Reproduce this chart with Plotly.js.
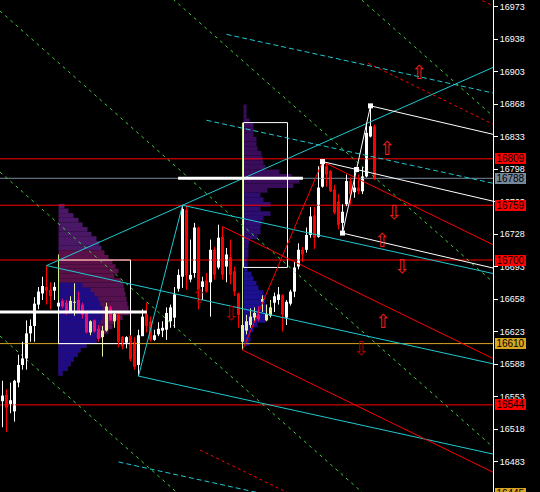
<!DOCTYPE html>
<html><head><meta charset="utf-8">
<script src="https://cdn.plot.ly/plotly-3.0.1.min.js"></script>
<style>html,body{margin:0;padding:0;background:#000;}#chart{width:540px;height:492px;}</style>
</head><body><div id="chart"></div>
<script>
// ---- candles (bar index 0..93) ----
const open  = [16548,16555,16545,16537,16568,16587,16594,16621,16629,16652,16664,16671,16668,16667,16650,16656,16654,16644,16654,16657,16652,16643,16622,16635,16626,16617,16624,16649,16634,16641,16617,16611,16618,16612,16587,16618,16642,16634,16614,16620,16624,16625,16634,16638,16669,16682,16754,16679,16686,16735,16671,16678,16676,16711,16692,16725,16693,16703,16688,16664,16612,16624,16630,16638,16641,16655,16635,16640,16654,16657,16662,16638,16653,16666,16693,16711,16711,16727,16748,16725,16779,16801,16796,16776,16763,16740,16760,16785,16773,16778,16774,16790,16833,16844];
const high  = [16570,16561,16568,16571,16598,16612,16635,16636,16660,16671,16682,16694,16676,16676,16657,16658,16657,16661,16675,16666,16654,16644,16635,16636,16630,16629,16654,16651,16643,16643,16618,16618,16619,16617,16625,16647,16654,16639,16625,16633,16634,16649,16652,16671,16690,16759,16758,16722,16740,16736,16682,16686,16722,16714,16738,16736,16713,16722,16693,16665,16638,16641,16648,16649,16650,16662,16652,16657,16665,16671,16663,16657,16668,16698,16718,16714,16735,16757,16757,16801,16806,16805,16797,16781,16771,16760,16792,16789,16800,16792,16800,16848,16866,16846];
const low   = [16520,16515,16535,16526,16563,16582,16582,16612,16612,16647,16657,16652,16647,16657,16647,16648,16641,16643,16640,16643,16637,16621,16619,16622,16612,16596,16623,16634,16627,16606,16604,16605,16591,16582,16575,16618,16622,16612,16613,16618,16617,16614,16627,16627,16666,16670,16668,16676,16681,16647,16657,16665,16639,16679,16690,16679,16676,16674,16661,16627,16603,16620,16627,16634,16634,16644,16634,16638,16644,16652,16623,16630,16651,16660,16690,16698,16708,16724,16712,16724,16778,16779,16773,16749,16733,16729,16758,16760,16767,16771,16771,16789,16832,16786];
const close = [16554,16541,16549,16570,16587,16594,16621,16629,16653,16666,16672,16667,16661,16671,16654,16650,16643,16656,16655,16644,16641,16622,16634,16623,16615,16624,16650,16635,16642,16612,16607,16617,16593,16585,16619,16639,16629,16614,16619,16626,16627,16643,16649,16663,16684,16755,16684,16684,16735,16668,16677,16666,16711,16684,16724,16684,16706,16684,16666,16641,16630,16634,16639,16643,16636,16658,16642,16649,16661,16663,16641,16655,16666,16692,16711,16706,16727,16747,16724,16778,16805,16792,16774,16751,16738,16752,16785,16771,16778,16774,16790,16837,16844,16788];
// candles recoloured by the volume-profile indicator (index ranges)
const tinted = [[15,28],[60,67]];

// ---- price axis ----
const priceTicks = [16973,16938,16903,16868,16833,16798,16763,16728,16693,16658,16623,16588,16553,16518,16483];
const levelPrice = [16809,16788,16759,16700,16610,16544];
const levelKind  = ['red','bid','red','red','gold','red'];
const bottomTag  = '16445';

// ---- volume profile 1 ----
const prof1Price = [16758,16753,16748,16743,16738,16733,16728,16723,16718,16713,16708,16703,16698,16693,16688,16683,16678,16673,16668,16663,16658,16653,16648,16643,16638,16633,16628,16623,16618,16613,16608,16603,16598,16593,16588,16583,16578];
const prof1Len   = [1.5,2.5,3.75,5,6,7.25,8.25,9.5,10.25,10.75,11.5,12.5,13.5,14.25,15,14,15.75,16.25,16.5,16.75,17,17.25,17.5,17.75,16,14.25,13.5,12.5,11,9.5,7,5.5,4.75,3.75,3,2.25,1];
const prof1Core  = [0,0,0,0,0,0,0,0,0,0,0,0,0,0,0,0,0,6,8,9,10,10.5,11,11,11,10.5,10,10,9.5,9.5,7,5.5,4.75,3.75,3,2.25,1];
const prof1Start = 14;
const prof1Box   = [14, 32, 16700, 16610];
// ---- volume profile 2 ----
const prof2Price = [16865,16860,16855,16850,16845,16840,16835,16830,16825,16820,16815,16810,16805,16800,16795,16790,16785,16780,16775,16770,16765,16760,16755,16750,16745,16740,16735,16730,16725,16720,16715,16710,16705,16700,16695,16690,16685,16680,16675,16670,16665,16660,16655,16650,16645,16640,16635,16630,16625,16620,16615,16610];
const prof2Len   = [0.75,0.75,0.75,1.5,2.5,2.5,2.5,3.25,3.25,3.5,4.5,4.75,5,5.5,9,12,14,12.5,6,4.25,5,6.75,4.25,6.75,5,4.5,4.25,4.25,3.5,1.5,1.25,1.25,1.25,1,1,1,2,2.5,3.25,3.75,5,5.5,5.5,6,6,6,5.5,3.5,2.5,1.75,1.75,1.5];
const prof2Start = 60.25;
const prof2Box   = [60.25, 71.25, 16848, 16692];
const pocPrice = [16644, 16788];
const pocFrom  = [-0.625, 43.9];
const pocTo    = [36.1, 75.1];
const markerLine1 = [14, 16706, 16652];
const markerLine2 = [60, 16848, 16605];

// ---- pitchforks (pivot bar indices) ----
const cyanPivots  = [11, 45, 34], cyanKinds  = ['high','high','low'];
const cyanWarn    = [3, 2, -2],   cyanWarnFrom = [56, 51, 29];
const cyanTrend   = [11, 45];
const redPivots   = [55, 60, 80], redKinds   = ['high','low','high'];
const redWarn     = [2.06, -2.06, 3.1], redWarnFrom = [91.4, 49.4, 120];
const whitePivots = [80, 85, 92], whiteKinds = ['high','low','high'];
// ---- green parallel lines (price at left edge, price at right edge) ----
const greenLeft  = [17324.6, 17145.8, 16968.2, 16794.8, 16618.2];
const greenRight = [16855.0, 16676.2, 16498.6, 16325.2, 16148.6];
// ---- signal arrows ----
const arrowIdx   = [104, 96, 97.75, 94.75, 99.75, 95, 89.5, 57, 49];
const arrowPrice = [16903, 16821, 16752, 16722, 16694, 16634, 16605, 16643, 16661];
const arrowDir   = ['up','up','down','up','down','up','down','down','up'];

// ================= drawing =================
const XL = -0.625, XR = 122.625;
const idx = open.map((_, i) => i);
const traces = [];
function seg(x0, y0, x1, y1, color, width, dash) {
  return {type:'scatter', mode:'lines', x:[x0, x1], y:[y0, y1],
    line:{color:color, width:width || 1, dash:dash || 'solid'}, hoverinfo:'skip'};
}

// profiles
traces.push({type:'bar', orientation:'h', y:prof1Price, x:prof1Len, base:prof1Start, width:5,
  marker:{color:prof1Price.map(p => p >= 16713 ? '#4a1866' : (p >= 16678 ? '#5a1048' : '#561250')), line:{width:0}}, hoverinfo:'skip'});
const coreI = prof1Core.map((v, i) => v > 0 ? i : -1).filter(i => i >= 0);
traces.push({type:'bar', orientation:'h', y:coreI.map(i => prof1Price[i]), x:coreI.map(i => prof1Core[i]), base:prof1Start, width:5,
  marker:{color:'#1e0c86', line:{width:0}}, hoverinfo:'skip'});
traces.push({type:'bar', orientation:'h', y:prof2Price, x:prof2Len, base:prof2Start, width:5,
  marker:{color:prof2Price.map(p => p >= 16775 ? '#3a0c5c' : (p >= 16700 ? '#2e0d70' : '#1c1090')), line:{width:0}}, hoverinfo:'skip'});

// horizontal levels
const levelColor = {red:'#ff0000', bid:'#778899', gold:'#daa520'};
levelPrice.forEach((p, k) => traces.push(seg(XL, p, XR, p, levelColor[levelKind[k]], 1)));

// profile boxes
[prof1Box, prof2Box].forEach(b => traces.push({type:'scatter', mode:'lines',
  x:[b[0], b[1], b[1], b[0], b[0]], y:[b[2], b[2], b[3], b[3], b[2]], line:{color:'#ffffff', width:1}, hoverinfo:'skip'}));
[markerLine1, markerLine2].forEach(m => traces.push(seg(m[0], m[1], m[0], m[2], '#c8f08c', 1)));

// green dashed parallels
greenLeft.forEach((p, k) => traces.push(seg(XL, p, XR, greenRight[k], '#3cd23c', 1, '3px,4px')));

// candles
const isTinted = i => tinted.some(r => i >= r[0] && i <= r[1]);
const cCol = idx.map(i => {
  const up = close[i] >= open[i];
  return isTinted(i) ? (up ? '#e6f2a2' : '#e8106e') : (up ? '#ffffff' : '#ff0000');
});
['#ffffff', '#ff0000', '#e6f2a2', '#e8106e'].forEach(col => {
  const xs = [], ys = [];
  idx.forEach(i => { if (cCol[i] === col) { xs.push(i, i, null); ys.push(low[i], high[i], null); } });
  traces.push({type:'scatter', mode:'lines', x:xs, y:ys, line:{color:col, width:1}, hoverinfo:'skip', connectgaps:false});
});
traces.push({type:'bar', x:idx, base:idx.map(i => Math.min(open[i], close[i])),
  y:idx.map(i => Math.max(Math.abs(close[i] - open[i]), 1)), width:0.75,
  marker:{color:cCol, line:{width:0}}, hoverinfo:'skip'});

// pitchfork helper
function pv(i, kind) { return kind === 'high' ? high[i] : low[i]; }
function pitchfork(piv, kinds) {
  const A = {x:piv[0], y:pv(piv[0], kinds[0])};
  const B = {x:piv[1], y:pv(piv[1], kinds[1])};
  const C = {x:piv[2], y:pv(piv[2], kinds[2])};
  const M = {x:(B.x + C.x) / 2, y:(B.y + C.y) / 2};
  const s = (M.y - A.y) / (M.x - A.x);
  const med = x => A.y + s * (x - A.x);
  const off = (Math.abs(B.y - med(B.x)) + Math.abs(C.y - med(C.x))) / 2;
  return {A, B, C, M, s, med, at:(x, k) => med(x) + k * off};
}
function drawFork(f, color) {
  traces.push(seg(f.A.x, f.A.y, XR, f.med(XR), color, 1));
  traces.push(seg(f.B.x, f.B.y, XR, f.B.y + f.s * (XR - f.B.x), color, 1));
  traces.push(seg(f.C.x, f.C.y, XR, f.C.y + f.s * (XR - f.C.x), color, 1));
  traces.push(seg(f.B.x, f.B.y, f.C.x, f.C.y, color, 1));
}
const cyan = pitchfork(cyanPivots, cyanKinds);
drawFork(cyan, '#20c8d0');
cyanWarn.forEach((k, j) => traces.push(seg(cyanWarnFrom[j], cyan.at(cyanWarnFrom[j], k), XR, cyan.at(XR, k), '#20c8d0', 1, '5px,3px')));
const tS = (high[cyanTrend[1]] - high[cyanTrend[0]]) / (cyanTrend[1] - cyanTrend[0]);
traces.push(seg(cyanTrend[0], high[cyanTrend[0]], XR, high[cyanTrend[0]] + tS * (XR - cyanTrend[0]), '#20c8d0', 1));

const red = pitchfork(redPivots, redKinds);
drawFork(red, '#ff0000');
redWarn.forEach((k, j) => traces.push(seg(redWarnFrom[j], red.at(redWarnFrom[j], k), XR, red.at(XR, k), '#ff0000', 1, '3px,3px')));

const wh = pitchfork(whitePivots, whiteKinds);
drawFork(wh, '#ffffff');

// POC lines
pocPrice.forEach((p, k) => traces.push(seg(pocFrom[k], p, pocTo[k], p, '#ffffff', 3)));

// white pivot markers
traces.push({type:'scatter', mode:'markers', x:[wh.A.x, wh.B.x, wh.C.x, wh.M.x], y:[wh.A.y, wh.B.y, wh.C.y, wh.M.y],
  marker:{symbol:'square', size:5, color:'#ffffff', line:{width:0}}, hoverinfo:'skip'});

// annotations
const ann = [];
const tagBg = {red:'#ff0000', bid:'#778899', gold:'#daa520'};
const tagFont = {family:'Liberation Sans, Arial, sans-serif', size:10, color:'#000000'};
levelPrice.forEach((p, k) => ann.push({xref:'paper', x:1, xanchor:'left', xshift:2, yref:'y', y:p, yanchor:'middle',
  text:String(p), showarrow:false, bgcolor:tagBg[levelKind[k]], borderpad:0, borderwidth:0, width:31, height:11,
  font:tagFont}));
ann.push({xref:'paper', x:1, xanchor:'left', xshift:2, yref:'paper', y:0, yanchor:'top', yshift:4,
  text:bottomTag, showarrow:false, bgcolor:'#daa520', borderpad:0, borderwidth:0, width:31, height:11,
  font:tagFont});
arrowIdx.forEach((x, k) => ann.push({xref:'x', yref:'y', x:x, y:arrowPrice[k], showarrow:false,
  text:arrowDir[k] === 'up' ? '\u21E7' : '\u21E9',
  font:{family:'DejaVu Sans', size:19, color:x >= 94 ? '#ff1a1a' : '#b00000'}}));

const layout = {
  width:540, height:492, margin:{l:0, r:47, t:0, b:0, pad:0},
  paper_bgcolor:'#000000', plot_bgcolor:'#000000', showlegend:false, barmode:'overlay',
  xaxis:{range:[XL, XR], visible:false, showgrid:false, zeroline:false, fixedrange:true},
  yaxis:{side:'right', range:[16450.2, 16980], tickvals:priceTicks, ticktext:priceTicks.map(String),
    ticks:'outside', ticklen:4, tickcolor:'#ffffff', tickwidth:1, showline:true, linecolor:'#ffffff', linewidth:1,
    showgrid:false, zeroline:false, fixedrange:true,
    tickfont:{family:'Liberation Sans, Arial, sans-serif', size:9, color:'#ffffff'}},
  annotations:ann
};
Plotly.newPlot('chart', traces, layout, {staticPlot:true, displayModeBar:false});
</script>
</body></html>
